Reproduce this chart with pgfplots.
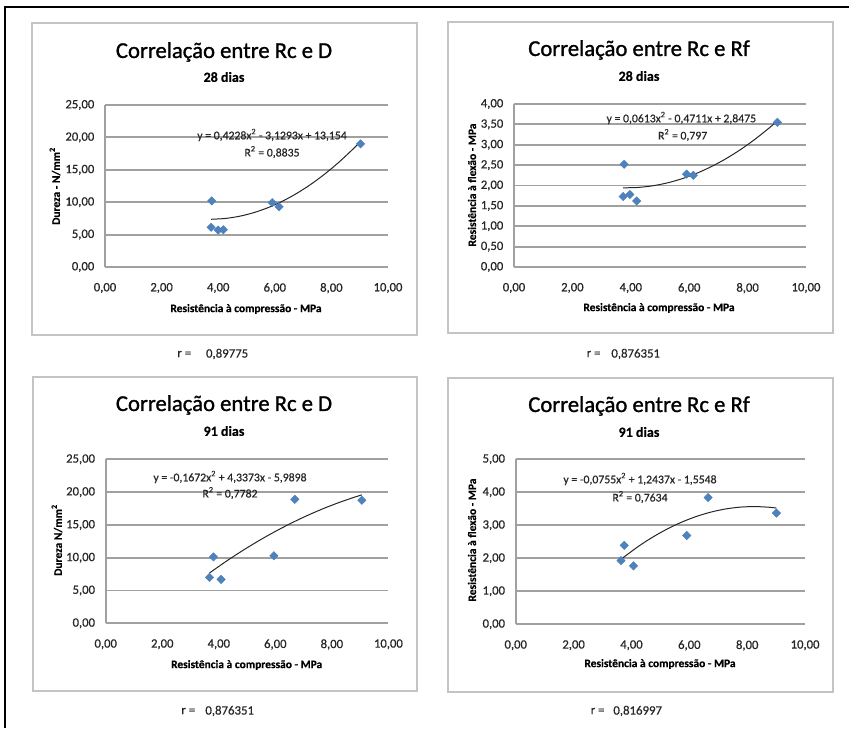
\documentclass[border=0pt]{standalone}
\usepackage{pgfplots}
\pgfplotsset{compat=1.18}
\usepackage{fontspec}
\setmainfont{Carlito}

\definecolor{serie}{HTML}{4F81BD}
\definecolor{grade}{HTML}{A0A0A0}
\definecolor{moldura}{HTML}{C4C4C4}
\definecolor{texto}{HTML}{262626}

% 28 days: compressive strength x hardness / flexural strength
\pgfplotstableread{
x y
3.75 6.13
3.77 10.20
4.00 5.70
4.18 5.75
5.91 9.93
6.15 9.30
9.03 19.00
}\durezaA
\pgfplotstableread{
x y
3.74 1.73
3.77 2.52
3.97 1.78
4.20 1.62
5.91 2.28
6.14 2.25
9.02 3.55
}\flexaoA
% 91 days
\pgfplotstableread{
x y
3.67 7.00
3.81 10.13
4.08 6.69
5.95 10.30
6.69 18.90
9.06 18.76
}\durezaB
\pgfplotstableread{
x y
3.64 1.93
3.75 2.39
4.07 1.77
5.91 2.69
6.65 3.84
9.01 3.37
}\flexaoB

% polynomial trendlines evaluated from the printed equations
\pgfplotstableread{
x y
3.75 7.3647
4.25 7.4913
4.75 7.8292
5.25 8.3786
5.75 9.1393
6.25 10.1115
6.75 11.2950
7.25 12.6900
7.75 14.2963
8.25 16.1141
8.75 18.1432
9.03 19.3719
}\tendA
\pgfplotstableread{
x y
3.74 1.9430
4.25 1.9526
4.75 1.9929
5.25 2.0638
5.75 2.1654
6.25 2.2977
6.75 2.4605
7.25 2.6541
7.75 2.8783
8.25 3.1332
8.75 3.4187
9.02 3.5856
}\tendB
\pgfplotstableread{
x y
3.67 7.6761
4.25 9.4237
4.75 10.8399
5.25 12.1726
5.75 13.4216
6.25 14.5871
6.75 15.6689
7.25 16.6672
7.75 17.5818
8.25 18.4129
8.75 19.1603
9.06 19.5818
}\tendC
\pgfplotstableread{
x y
3.64 1.9719
4.25 2.3672
4.75 2.6493
5.25 2.8937
5.75 3.1003
6.25 3.2691
6.75 3.4002
7.25 3.4936
7.75 3.5492
8.25 3.5670
8.75 3.5471
9.01 3.5218
}\tendD

\pgfplotsset{
  painel/.style={
    scale only axis,
    anchor=south west,
    xmin=0, xmax=10,
    xtick={0,2,...,10},
    ymin=0,
    axis x line*=bottom,
    axis y line*=left,
    x axis line style={-, draw=grade, line width=1.4pt},
    y axis line style={-, draw=grade, line width=1.4pt},
    major tick length=0pt,
    ymajorgrids,
    grid style={draw=grade, line width=1.4pt},
    tick label style={font=\fontsize{9.5}{11}\selectfont\addfontfeature{FakeBold=0.6}, text=texto},
    xticklabel style={yshift=-8.5pt},
    yticklabel style={xshift=-4.5pt},
    /pgf/number format/.cd, fixed, fixed zerofill, precision=2, use comma,
      assume math mode=true, 1000 sep={},
  },
  pontos/.style={only marks, mark=square*, mark size=2.2pt,
    mark options={rotate=45, fill=serie, draw=serie}},
  tendencia/.style={no marks, smooth, draw=black!85, line width=0.75pt},
}

\newcommand\titulo[1]{\fontsize{17}{19}\selectfont\addfontfeature{FakeBold=1.2}#1}
\newcommand\subt[1]{\fontsize{10.5}{12}\selectfont\bfseries\addfontfeature{FakeBold=0.4}#1}
\newcommand\rotulo[1]{\fontsize{8.6}{10}\selectfont\bfseries\addfontfeature{FakeBold=0.4}#1}
\newcommand\equacao[1]{\fontsize{8.8}{10}\selectfont\addfontfeature{FakeBold=0.5}#1}
\newcommand\valr[1]{\fontsize{9.6}{11}\selectfont\addfontfeature{FakeBold=0.5}#1}

\begin{document}
\begin{tikzpicture}
\useasboundingbox (0,0) rectangle (636.75pt,-546pt);
% outer frame
\draw[black, line width=1.6pt] (3.75pt,-546pt) -- (3.75pt,-5.25pt) -- (636.75pt,-5.25pt);

% chart boxes
\draw[moldura, line width=1.1pt] (24pt,-17.25pt) rectangle (312.75pt,-251.25pt);
\draw[moldura, line width=1.1pt] (336pt,-16.5pt) rectangle (624.75pt,-249.75pt);
\draw[moldura, line width=1.1pt] (24.75pt,-282.75pt) rectangle (312.75pt,-518.25pt);
\draw[moldura, line width=1.1pt] (336pt,-283.5pt) rectangle (624.75pt,-519pt);

% ---------- 28 dias: Rc x D ----------
\begin{axis}[painel, at={(78.75pt,-200.25pt)}, width=212.25pt, height=121.5pt,
  ymax=25, ytick={0,5,...,25}]
\addplot[pontos] table {\durezaA};
\addplot[tendencia] table {\tendA};
\end{axis}
\node at (168pt,-39pt) {\titulo{Correlação entre Rc e D}};
\node at (168pt,-57.75pt) {\subt{28 dias}};
\node at (184.5pt,-231.75pt) {\rotulo{Resistência à compressão - MPa}};
\node[rotate=90] at (41.25pt,-139.5pt) {\rotulo{Dureza - N/mm\textsuperscript{2}}};
\node[text=texto] at (204pt,-101.25pt) {\equacao{y = 0,4228x\textsuperscript{2} - 3,1293x + 13,154}};
\node[text=texto] at (204pt,-114pt) {\equacao{R\textsuperscript{2} = 0,8835}};
\node[anchor=west, text=texto] at (129.5pt,-265.5pt) {\valr{r =}};
\node[anchor=west, text=texto] at (151pt,-265.5pt) {\valr{0,89775}};

% ---------- 28 dias: Rc x Rf ----------
\begin{axis}[painel, at={(385.5pt,-200.25pt)}, width=219pt, height=122.25pt,
  ymax=4, ytick={0,0.5,...,4}]
\addplot[pontos] table {\flexaoA};
\addplot[tendencia] table {\tendB};
\end{axis}
\node at (479.25pt,-37.5pt) {\titulo{Correlação entre Rc e Rf}};
\node at (479.25pt,-57pt) {\subt{28 dias}};
\node at (494.25pt,-231pt) {\rotulo{Resistência à compressão - MPa}};
\node[rotate=90] at (354pt,-138.75pt) {\rotulo{Resistência à flexão - MPa}};
\node[text=texto] at (511pt,-88.5pt) {\equacao{y = 0,0613x\textsuperscript{2} - 0,4711x + 2,8475}};
\node[text=texto] at (512pt,-101.25pt) {\equacao{R\textsuperscript{2} = 0,797}};
\node[anchor=west, text=texto] at (436.5pt,-265.5pt) {\valr{r =}};
\node[anchor=west, text=texto] at (455pt,-265.5pt) {\valr{0,876351}};

% ---------- 91 dias: Rc x D ----------
\begin{axis}[painel, at={(79.3pt,-467.5pt)}, width=212pt, height=123pt,
  ymax=25, ytick={0,5,...,25}]
\addplot[pontos] table {\durezaB};
\addplot[tendencia] table {\tendC};
\end{axis}
\node at (168pt,-303.75pt) {\titulo{Correlação entre Rc e D}};
\node at (168pt,-323.25pt) {\subt{91 dias}};
\node at (185pt,-498.75pt) {\rotulo{Resistência à compressão - MPa}};
\node[rotate=90] at (42.75pt,-405pt) {\rotulo{Dureza N/mm\textsuperscript{2}}};
\node[text=texto] at (172.5pt,-357.75pt) {\equacao{y = -0,1672x\textsuperscript{2} + 4,3373x - 5,9898}};
\node[text=texto] at (172.5pt,-369.75pt) {\equacao{R\textsuperscript{2} = 0,7782}};
\node[anchor=west, text=texto] at (132.5pt,-533.25pt) {\valr{r =}};
\node[anchor=west, text=texto] at (150.5pt,-533.25pt) {\valr{0,876351}};

% ---------- 91 dias: Rc x Rf ----------
\begin{axis}[painel, at={(386.8pt,-468.2pt)}, width=217pt, height=123.75pt,
  ymax=5, ytick={0,1,...,5}]
\addplot[pontos] table {\flexaoB};
\addplot[tendencia] table {\tendD};
\end{axis}
\node at (479.25pt,-304.5pt) {\titulo{Correlação entre Rc e Rf}};
\node at (479.25pt,-324pt) {\subt{91 dias}};
\node at (495pt,-498pt) {\rotulo{Resistência à compressão - MPa}};
\node[rotate=90] at (354pt,-405pt) {\rotulo{Resistência à flexão - MPa}};
\node[text=texto] at (480pt,-359.25pt) {\equacao{y = -0,0755x\textsuperscript{2} + 1,2437x - 1,5548}};
\node[text=texto] at (480pt,-372.75pt) {\equacao{R\textsuperscript{2} = 0,7634}};
\node[anchor=west, text=texto] at (439.5pt,-533.25pt) {\valr{r =}};
\node[anchor=west, text=texto] at (456.5pt,-533.25pt) {\valr{0,816997}};
\end{tikzpicture}
\end{document}
